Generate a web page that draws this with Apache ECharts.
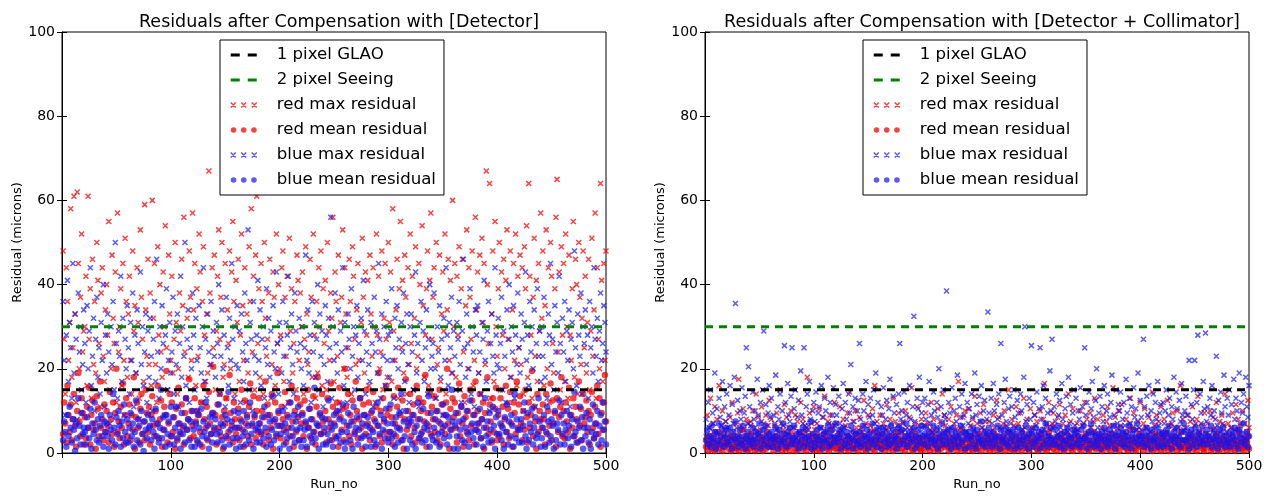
<!DOCTYPE html>
<html>
<head>
<meta charset="utf-8">
<script src="https://cdn.jsdelivr.net/npm/echarts@6/dist/echarts.min.js"></script>
<style>
html, body { margin: 0; padding: 0; background: #fff; }
#chart { width: 1272px; height: 496px; }
</style>
</head>
<body>
<div id="chart"></div>
<script>
// residuals (microns) per run, compensation with detector only
const redMaxDet = [
    48, 27, 14, 44, 36, 22, 31, 58, 18, 25, 61, 33, 12, 62, 45, 20, 37, 52, 24, 29,
    30, 42, 16, 61, 27, 39, 13, 46, 21, 36, 19, 50, 41, 26, 11, 38, 44, 23, 17, 34,
    40, 28, 55, 15, 20, 47, 32, 26, 43, 12, 57, 24, 30, 39, 16, 45, 22, 51, 36, 18,
    33, 42, 22, 14, 48, 29, 35, 19, 44, 31, 13, 53, 37, 27, 17, 59, 34, 23, 46, 21,
    38, 16, 60, 32, 45, 21, 12, 49, 28, 40, 24, 18, 43, 30, 54, 25, 15, 47, 33, 22,
    42, 19, 27, 50, 31, 14, 20, 38, 29, 46, 35, 56, 24, 13, 32, 18, 48, 37, 22, 57,
    34, 45, 16, 39, 23, 52, 43, 12, 36, 49, 28, 17, 33, 19, 67, 38, 21, 44, 25, 47,
    15, 29, 42, 53, 27, 37, 50, 18, 21, 45, 13, 34, 26, 48, 20, 43, 55, 36, 14, 41,
    31, 46, 17, 28, 52, 35, 22, 44, 12, 33, 19, 49, 36, 58, 24, 42, 15, 47, 61, 26,
    39, 18, 45, 36, 14, 50, 32, 23, 27, 38, 46, 13, 21, 43, 37, 16, 52, 26, 40, 20,
    28, 44, 48, 17, 37, 23, 42, 12, 51, 29, 39, 19, 26, 36, 15, 47, 41, 22, 38, 30,
    43, 14, 27, 49, 33, 21, 24, 46, 37, 18, 52, 28, 13, 36, 19, 44, 30, 48, 16, 39,
    26, 41, 15, 50, 29, 22, 38, 32, 56, 17, 43, 36, 23, 47, 12, 31, 37, 53, 20, 44,
    33, 18, 25, 46, 36, 14, 49, 42, 27, 21, 34, 45, 22, 13, 31, 51, 37, 19, 43, 28,
    41, 16, 47, 33, 23, 44, 30, 12, 52, 28, 42, 20, 24, 48, 15, 32, 45, 27, 18, 50,
    31, 43, 17, 58, 29, 22, 34, 46, 13, 39, 55, 25, 41, 19, 47, 37, 14, 44, 21, 52,
    26, 42, 15, 32, 49, 20, 23, 45, 40, 12, 54, 35, 18, 28, 39, 48, 16, 41, 57, 27,
    37, 44, 13, 50, 21, 25, 47, 17, 33, 43, 29, 52, 14, 34, 46, 22, 41, 19, 60, 30,
    45, 18, 42, 28, 49, 15, 39, 46, 24, 12, 35, 53, 20, 44, 37, 27, 48, 16, 22, 56,
    34, 43, 19, 47, 14, 51, 31, 45, 21, 67, 40, 26, 64, 13, 33, 48, 17, 55, 30, 23,
    39, 50, 15, 43, 28, 46, 20, 41, 53, 12, 27, 48, 18, 34, 45, 22, 52, 16, 42, 25,
    47, 21, 44, 14, 49, 39, 54, 18, 64, 42, 28, 13, 37, 51, 23, 41, 17, 45, 29, 57,
    32, 48, 16, 35, 53, 20, 44, 12, 50, 42, 26, 19, 39, 56, 65, 24, 43, 15, 49, 28,
    45, 17, 52, 30, 13, 47, 28, 22, 39, 55, 18, 46, 40, 14, 50, 37, 21, 32, 48, 25,
    42, 19, 31, 46, 15, 29, 51, 23, 34, 57, 13, 44, 27, 20, 64, 41, 17, 45, 22, 48
];
const redMeanDet = [
    4.5, 12, 7, 2.5, 16, 9, 5, 11.5, 3, 8, 14, 6.5, 1.5, 10, 19, 7.5, 4, 13, 9.5, 2,
    8.5, 3.5, 11, 6, 15.5, 2, 9, 12.5, 5.5, 7, 1, 13.5, 10.5, 4, 17, 6, 8, 3, 11.5, 5,
    10, 6.5, 2.5, 14.5, 8, 4.5, 12, 1.5, 9.5, 20, 5, 7.5, 3.5, 11, 6, 16.5, 2, 9, 13, 4,
    7, 11.5, 3, 9, 5.5, 18, 1, 8.5, 12, 6, 2.5, 10.5, 14, 4.5, 7.5, 3, 15, 9.5, 5, 11,
    2, 9, 13.5, 6.5, 4, 10, 7, 16, 3.5, 8, 12.5, 1.5, 5.5, 11, 9, 19.5, 2.5, 7, 14, 4,
    12, 5, 8.5, 1, 10.5, 3, 15.5, 7, 4.5, 11.5, 6, 2, 9.5, 13, 5.5, 8, 17.5, 3.5, 10, 6.5,
    4, 13, 7.5, 10, 2.5, 9, 5, 12, 1.5, 16, 8, 6, 11, 3, 14.5, 7, 4.5, 9.5, 20.5, 5.5,
    9, 2, 11.5, 6, 14, 4, 8.5, 1, 10, 7, 13, 3.5, 5, 18.5, 9.5, 6.5, 2.5, 12, 8, 4.5,
    6, 10.5, 3, 8, 15, 5.5, 1.5, 12.5, 7, 9, 4, 11, 16.5, 2, 6.5, 13.5, 8.5, 3.5, 10, 5,
    13, 7, 4.5, 10, 2, 8.5, 17, 5, 11.5, 3, 9, 6, 14, 1, 7.5, 12, 4, 19, 9.5, 6.5,
    3.5, 11, 8, 5.5, 14.5, 2.5, 9, 6, 12, 4, 16, 7.5, 1.5, 10, 5, 13, 8.5, 3, 11.5, 7,
    9.5, 4, 12.5, 7, 1, 15, 6, 10.5, 3.5, 8, 13.5, 5, 2, 11, 18, 6.5, 9, 4.5, 14, 7.5,
    5, 10, 2.5, 13, 8, 6, 16.5, 3, 11, 7, 4, 9.5, 12, 1.5, 15.5, 8.5, 5.5, 10.5, 3, 20,
    11, 6.5, 14, 4, 9, 2, 12.5, 7.5, 5, 17, 10, 3.5, 8, 13, 6, 1, 11.5, 9, 4.5, 15,
    7, 12, 3, 9.5, 5.5, 14.5, 8, 1.5, 11, 6.5, 19, 4, 10, 2.5, 13, 7.5, 5, 16, 9, 3.5,
    10.5, 5, 8.5, 2, 13.5, 7, 4, 11, 15.5, 6, 9, 3, 12.5, 1, 8, 17.5, 5.5, 10, 7, 14,
    4, 9, 11.5, 6, 2.5, 16, 8, 13, 3.5, 10, 5, 12, 7.5, 18.5, 1.5, 9.5, 6.5, 14.5, 4.5, 11,
    8, 13.5, 5, 10, 3, 7.5, 15, 2, 11.5, 6, 9, 4.5, 12, 20, 7, 1, 10.5, 5.5, 13, 8.5,
    12, 6, 2.5, 9.5, 16.5, 4, 11, 7, 1.5, 13.5, 8.5, 5, 10, 3, 15, 6.5, 12.5, 9, 2, 17,
    5.5, 10, 7, 14, 3.5, 8, 12, 1, 9.5, 6, 18, 4.5, 11.5, 7.5, 2.5, 13, 5, 10.5, 15.5, 3,
    9, 4, 13, 6.5, 11, 2, 8, 16, 5, 10.5, 3.5, 14.5, 7, 1.5, 12, 9.5, 4.5, 17, 6, 11.5,
    13.5, 7, 3, 10, 5.5, 15, 8.5, 2.5, 12, 6, 9, 19.5, 4, 11, 7.5, 1, 14, 5, 10, 8,
    6, 11.5, 8, 2, 14, 4.5, 10, 6.5, 16.5, 3, 12.5, 7, 9.5, 1.5, 13, 5, 8.5, 11, 18, 4,
    10, 3.5, 12, 7.5, 5, 15.5, 1, 9, 6, 13, 4, 11, 8, 2.5, 17, 6.5, 10.5, 3, 14, 7,
    8.5, 12.5, 5, 10, 2, 9, 14.5, 6, 3.5, 11, 7, 16, 4.5, 13, 1.5, 9.5, 5.5, 12, 18.5, 7.5
];
const blueMaxDet = [
    36, 22, 9, 28, 41, 17, 31, 25, 13, 45, 19, 33, 27, 8, 38, 24, 30, 15, 21, 34,
    26, 12, 35, 20, 29, 44, 16, 23, 32, 10, 27, 37, 18, 25, 14, 31, 22, 40, 11, 28,
    19, 33, 24, 7, 30, 21, 36, 15, 50, 26, 13, 29, 23, 42, 17, 32, 9, 27, 20, 35,
    25, 14, 31, 22, 38, 11, 28, 19, 34, 26, 8, 43, 21, 30, 16, 24, 33, 12, 29, 18,
    32, 23, 10, 27, 36, 17, 46, 24, 13, 30, 20, 35, 26, 9, 28, 39, 15, 22, 31, 19,
    24, 37, 14, 29, 21, 33, 11, 26, 42, 18, 30, 23, 50, 16, 27, 34, 12, 25, 20, 38,
    28, 15, 32, 22, 10, 35, 25, 19, 30, 44, 17, 27, 13, 33, 24, 21, 36, 9, 29, 23,
    18, 31, 26, 40, 14, 23, 34, 20, 28, 11, 37, 25, 16, 32, 22, 45, 27, 13, 30, 21,
    35, 20, 29, 12, 33, 24, 17, 38, 26, 22, 53, 15, 31, 27, 10, 36, 23, 19, 28, 41,
    22, 34, 16, 27, 30, 13, 25, 39, 21, 32, 18, 29, 8, 35, 24, 20, 43, 26, 14, 31,
    27, 19, 36, 23, 11, 31, 28, 42, 17, 25, 33, 21, 14, 38, 29, 24, 9, 32, 26, 20,
    30, 16, 25, 47, 22, 34, 19, 28, 12, 36, 24, 31, 18, 27, 40, 15, 33, 23, 29, 11,
    21, 35, 28, 17, 32, 25, 56, 13, 30, 22, 38, 26, 19, 34, 10, 29, 24, 44, 16, 31,
    25, 12, 33, 27, 20, 39, 23, 30, 15, 28, 35, 18, 26, 9, 32, 22, 41, 29, 14, 24,
    34, 21, 17, 31, 26, 11, 37, 24, 29, 19, 45, 27, 13, 33, 23, 30, 16, 36, 22, 28,
    18, 29, 39, 22, 13, 32, 25, 35, 20, 27, 10, 31, 24, 38, 17, 26, 33, 21, 12, 30,
    33, 24, 15, 28, 43, 19, 26, 11, 31, 36, 22, 29, 17, 25, 34, 14, 27, 40, 20, 23,
    26, 38, 20, 13, 30, 24, 35, 18, 27, 9, 32, 22, 44, 28, 16, 31, 25, 37, 19, 29,
    23, 15, 31, 27, 36, 21, 12, 29, 46, 25, 18, 33, 26, 20, 39, 14, 30, 24, 11, 34,
    28, 35, 19, 24, 14, 31, 27, 41, 22, 17, 29, 36, 10, 26, 33, 23, 19, 44, 28, 21,
    32, 20, 26, 37, 15, 29, 23, 12, 34, 27, 40, 18, 30, 24, 35, 13, 28, 21, 38, 25,
    19, 33, 27, 10, 31, 43, 22, 28, 16, 36, 24, 30, 20, 34, 11, 26, 39, 23, 29, 17,
    30, 23, 37, 18, 26, 13, 33, 28, 45, 21, 27, 15, 35, 24, 31, 19, 42, 26, 12, 32,
    24, 36, 17, 29, 22, 34, 11, 27, 31, 20, 48, 25, 16, 33, 28, 23, 38, 14, 30, 26,
    34, 21, 28, 13, 36, 25, 30, 19, 44, 27, 23, 32, 17, 29, 38, 22, 26, 35, 31, 24
];
const blueMeanDet = [
    3, 7.5, 5, 1.5, 9, 4, 11, 6, 2.5, 8, 5.5, 0.5, 7, 3.5, 13, 6.5, 2, 9.5, 4.5, 6,
    5, 2, 8.5, 6, 3.5, 10.5, 1, 7, 4.5, 12, 5.5, 3, 8, 2.5, 6.5, 9, 4, 1.5, 7.5, 5,
    7, 4, 1, 9, 5.5, 3, 14, 6, 2, 8.5, 4.5, 10, 6.5, 1.5, 7.5, 3.5, 11.5, 5, 2.5, 8,
    2.5, 6, 9.5, 4, 7, 1.5, 5, 12.5, 3, 8, 6.5, 2, 10, 4.5, 0.5, 7.5, 5.5, 3.5, 9, 6,
    6.5, 3, 8, 5, 1, 10.5, 4, 7, 2.5, 6, 15, 3.5, 8.5, 5.5, 1.5, 9, 4.5, 7.5, 2, 11,
    4, 8.5, 2, 6, 11, 3.5, 7, 5, 1, 9.5, 4.5, 6.5, 2.5, 13, 5.5, 8, 3, 7.5, 1.5, 10,
    5.5, 1.5, 7, 3, 9, 6, 2, 10.5, 4, 7.5, 5, 12, 3.5, 6.5, 1, 8.5, 4.5, 2.5, 9.5, 6,
    8, 4.5, 2.5, 11.5, 5, 7, 3, 6.5, 1.5, 9, 4, 8, 14.5, 2, 5.5, 7.5, 3.5, 10, 6, 1,
    3.5, 9.5, 6, 1.5, 7.5, 4, 10, 5, 2, 8.5, 6.5, 3, 12, 4.5, 7, 1, 9, 5.5, 2.5, 6,
    7, 2.5, 5, 8.5, 3.5, 11, 6, 1.5, 9, 4, 7.5, 2, 5.5, 13.5, 3, 8, 4.5, 6.5, 10, 1,
    4.5, 6.5, 10, 2, 7, 5, 3.5, 8.5, 1, 12, 6, 4, 9, 2.5, 7.5, 5.5, 11, 3, 6, 1.5,
    9, 3, 5.5, 7.5, 1.5, 6, 10.5, 4, 8, 2.5, 5, 15.5, 3.5, 7, 6.5, 1, 9.5, 4.5, 8.5, 2,
    6, 8, 2, 4.5, 12.5, 3, 7, 5.5, 1.5, 9, 6.5, 3.5, 10, 4, 8, 2.5, 5, 11.5, 7.5, 1,
    2.5, 5, 9.5, 6.5, 3, 7.5, 1, 11, 4.5, 6, 8.5, 2, 5.5, 13, 3.5, 7, 4, 9, 1.5, 6.5,
    8.5, 4, 6, 1.5, 10, 5, 3, 7.5, 2, 12, 6.5, 4.5, 9, 1, 5.5, 8, 3.5, 10.5, 7, 2.5,
    5, 11.5, 3.5, 7, 4.5, 1.5, 8.5, 6, 2.5, 9.5, 5.5, 14, 3, 7.5, 4, 10, 1, 6.5, 8, 3,
    7.5, 2, 9, 5, 1, 6.5, 12, 3.5, 8, 4.5, 2.5, 10.5, 6, 3, 7, 5.5, 13.5, 1.5, 9.5, 4,
    3, 6, 8, 2.5, 10, 4.5, 1.5, 7, 5, 11.5, 3.5, 6.5, 9, 2, 8.5, 4, 5.5, 15, 7.5, 1,
    6.5, 9.5, 4, 1, 7.5, 5.5, 11, 3, 8, 2.5, 6, 10, 4.5, 1.5, 12.5, 5, 7, 3.5, 9, 5.5,
    2, 7, 5, 10.5, 3.5, 8, 1.5, 6, 13, 4, 7.5, 2.5, 9.5, 5.5, 3, 11, 6.5, 1, 8.5, 4.5,
    10, 4.5, 7, 3, 6, 1, 8.5, 5, 11.5, 2, 7.5, 4, 9, 6.5, 1.5, 14, 3.5, 8, 5.5, 2.5,
    5.5, 8, 2.5, 6.5, 12, 4, 1, 9.5, 3, 7, 5, 10.5, 2, 6, 8.5, 3.5, 4.5, 13, 7.5, 1.5,
    3.5, 6, 9, 1.5, 5, 11, 7.5, 2.5, 4, 8, 6.5, 1, 10, 3, 7, 5.5, 12.5, 2, 9, 4.5,
    7, 2, 5.5, 10, 3.5, 6.5, 9, 1.5, 8, 4, 14.5, 5, 2.5, 7.5, 6, 11, 3, 8.5, 1, 6,
    4, 9.5, 6, 2.5, 8, 1, 5, 11.5, 3.5, 7, 4.5, 10, 2, 6.5, 9, 3, 12, 5.5, 7.5, 2
];

// residuals (microns) per run, compensation with detector + collimator
const redMaxColl = [
    4, 9, 2.5, 6, 13, 3.5, 7, 5, 11, 1.5, 8, 4.5, 16, 3, 6.5, 10, 2, 5.5, 7.5, 3,
    6, 2, 8.5, 4, 12, 5, 1.5, 7, 3.5, 9.5, 17.5, 4.5, 6.5, 2.5, 10.5, 5.5, 3, 8, 1, 7,
    3, 7.5, 5, 10, 2, 6, 14, 4, 8.5, 1.5, 5.5, 11, 3.5, 7, 2.5, 9, 4.5, 6.5, 12.5, 2,
    8, 4, 1.5, 6.5, 3, 9.5, 5, 2.5, 15, 7, 3.5, 5.5, 11.5, 1, 8.5, 4.5, 6, 2, 10, 5,
    2.5, 6, 9, 3.5, 7.5, 1, 5, 12, 4, 8, 2, 6.5, 3, 18, 5.5, 9.5, 1.5, 7, 4.5, 11,
    5.5, 3, 7, 1.5, 10.5, 4.5, 6, 2.5, 8.5, 13.5, 3.5, 5, 7.5, 2, 9, 4, 6.5, 1, 12, 3,
    7, 2, 4.5, 11, 5.5, 3, 8, 1.5, 6.5, 4, 9.5, 2.5, 14.5, 5, 3.5, 7.5, 1, 10, 6, 4.5,
    3.5, 8.5, 6, 2, 5, 12.5, 4, 7, 1.5, 9, 3, 6.5, 2.5, 10.5, 5.5, 16, 4.5, 7.5, 2, 5,
    9, 4, 1.5, 7, 3, 5.5, 11.5, 2.5, 6, 8, 4.5, 1, 13, 3.5, 7.5, 5, 2, 9.5, 6.5, 3,
    5, 7.5, 3, 10, 2, 6, 4.5, 8.5, 1.5, 15.5, 5.5, 3.5, 7, 2.5, 11, 4, 6.5, 1, 8, 3.5,
    2, 6.5, 9.5, 4, 7, 1.5, 5.5, 12, 3, 8, 4.5, 2.5, 6, 10.5, 1, 7.5, 3.5, 14, 5, 9,
    6.5, 3, 5, 8, 2.5, 11, 4, 1.5, 7, 5.5, 9, 3.5, 17, 2, 6, 4.5, 8.5, 1, 10, 5,
    4, 10.5, 2, 6.5, 3.5, 8, 5, 13.5, 1.5, 7, 4.5, 2.5, 9.5, 6, 3, 11.5, 5.5, 7.5, 2, 4,
    7.5, 1.5, 5, 3, 9, 6, 2, 12.5, 4, 8.5, 1, 5.5, 3.5, 7, 10, 2.5, 6.5, 4.5, 15, 3,
    5, 8, 3.5, 6.5, 1.5, 11, 4, 7, 2.5, 9.5, 5.5, 3, 13, 6, 1, 8, 4.5, 2, 10.5, 6,
    3, 6, 9, 2, 7.5, 4.5, 1.5, 10, 5, 3.5, 8, 16.5, 2.5, 6.5, 4, 12, 5.5, 1, 7, 9.5,
    6.5, 2.5, 4, 8.5, 3, 11.5, 5, 1.5, 7, 4.5, 9, 2, 6, 14, 3.5, 7.5, 1, 10.5, 5.5, 4,
    2, 7, 5.5, 1.5, 10, 3.5, 6.5, 4, 12, 2.5, 8, 5, 3, 9.5, 6, 1, 7.5, 13, 4.5, 3,
    8, 4.5, 2, 6, 3.5, 9, 1.5, 5.5, 7.5, 11, 3, 6.5, 2.5, 4, 15.5, 5, 8.5, 1, 6, 10,
    4, 6.5, 11.5, 3, 5, 2, 8, 4.5, 1, 7, 13, 3.5, 6, 9.5, 2.5, 5.5, 1.5, 7.5, 4, 12,
    5.5, 2, 7, 10.5, 4, 6, 1.5, 8.5, 3, 5, 14.5, 2.5, 6.5, 4.5, 9, 1, 7.5, 3.5, 11, 5,
    3.5, 8, 5, 2, 12.5, 6.5, 4, 1.5, 7, 9.5, 3, 5.5, 2.5, 10, 6, 4.5, 16, 1, 8, 3,
    6, 3, 9, 4.5, 1.5, 7.5, 5, 11, 2.5, 6.5, 3.5, 8, 13.5, 4, 2, 7, 5.5, 1, 9.5, 4.5,
    2.5, 7, 4, 10, 5.5, 3, 8.5, 1.5, 6, 12, 4.5, 2, 7.5, 5, 9, 3.5, 6.5, 14, 1, 5,
    7, 4, 1.5, 6, 9.5, 3, 5.5, 11.5, 2, 8, 4.5, 6.5, 2.5, 10, 3.5, 7, 1, 5, 12.5, 6
];
const redMeanColl = [
    1.5, 3, 0.5, 2, 4, 1, 2.5, 3.5, 0.5, 1.5, 2, 5, 1, 3, 2.5, 0.5, 4.5, 1.5, 2, 3.5,
    2.5, 1, 3.5, 0.5, 2, 4, 1.5, 3, 1, 2.5, 0.5, 3.5, 2, 5.5, 1, 2.5, 1.5, 4, 0.5, 3,
    1, 4.5, 2, 1.5, 3, 0.5, 2.5, 1, 3.5, 2, 4, 1.5, 0.5, 3, 2.5, 1, 5, 2, 1.5, 3.5,
    3, 1.5, 0.5, 2.5, 4, 2, 1, 3.5, 1.5, 2.5, 0.5, 3, 4.5, 1, 2, 3, 1.5, 0.5, 2.5, 4,
    2, 3.5, 1, 0.5, 2.5, 4.5, 1.5, 2, 3, 1, 5, 2.5, 0.5, 3.5, 1.5, 2, 4, 1, 3, 0.5,
    1.5, 2.5, 4, 1, 3, 0.5, 2, 3.5, 1.5, 4.5, 2.5, 1, 3, 0.5, 2, 5.5, 1.5, 2.5, 3.5, 1,
    3.5, 1, 2, 4.5, 0.5, 2.5, 1.5, 3, 2, 1, 4, 0.5, 2.5, 3.5, 1.5, 2, 3, 1, 4.5, 2,
    0.5, 3, 1.5, 2.5, 4, 1, 2, 0.5, 3.5, 2.5, 1.5, 5, 2, 1, 3, 0.5, 2.5, 4, 1.5, 3,
    2.5, 1, 4.5, 2, 0.5, 3, 1.5, 3.5, 1, 2, 4, 2.5, 0.5, 1.5, 3, 2, 5, 1, 2.5, 3.5,
    1, 2.5, 3, 0.5, 4, 1.5, 2, 3.5, 2.5, 1, 0.5, 3, 4.5, 2, 1.5, 2.5, 1, 3.5, 0.5, 2,
    3, 2, 1, 4, 1.5, 2.5, 0.5, 3, 5, 1, 2, 3.5, 1.5, 0.5, 2.5, 4, 1, 3, 2, 1.5,
    2, 4.5, 1.5, 0.5, 3, 2, 1, 3.5, 2.5, 1.5, 4, 0.5, 2, 3, 1, 5.5, 2.5, 1.5, 0.5, 3.5,
    1.5, 3, 2.5, 1, 4, 0.5, 3.5, 2, 1.5, 2.5, 1, 4.5, 3, 0.5, 2, 1.5, 3.5, 2.5, 1, 4,
    2.5, 0.5, 3.5, 2, 1, 4.5, 1.5, 3, 0.5, 2, 3.5, 1, 2.5, 4, 1.5, 0.5, 3, 2, 5, 1,
    1, 3.5, 2, 0.5, 2.5, 4, 1.5, 1, 3, 2.5, 0.5, 4.5, 2, 1.5, 3.5, 1, 2.5, 0.5, 3, 2,
    4, 1.5, 2.5, 3, 1, 0.5, 3.5, 2, 4.5, 1.5, 2.5, 1, 3, 0.5, 2, 5, 1.5, 3.5, 2.5, 1,
    2, 3, 0.5, 1.5, 4, 2.5, 1, 3.5, 2, 0.5, 3, 1.5, 4.5, 2.5, 1, 2, 3.5, 0.5, 1.5, 3,
    1.5, 2.5, 4, 1, 3, 0.5, 2, 3.5, 1.5, 4.5, 2.5, 1, 0.5, 3, 2, 1.5, 5, 2.5, 1, 3.5,
    3, 1, 2, 3.5, 0.5, 2.5, 4, 1.5, 2, 1, 3, 4.5, 0.5, 2.5, 1.5, 3.5, 2, 1, 4, 2.5,
    0.5, 2, 3.5, 1.5, 2.5, 4, 1, 3, 0.5, 2, 5.5, 1.5, 3, 2.5, 1, 0.5, 3.5, 2, 4.5, 1.5,
    2.5, 1.5, 0.5, 3, 2, 4, 1, 2.5, 3.5, 1.5, 0.5, 3, 2, 4.5, 1, 2.5, 1.5, 3.5, 0.5, 2,
    3.5, 1, 2.5, 4.5, 1.5, 0.5, 3, 2, 1, 4, 2.5, 1.5, 3.5, 0.5, 2, 3, 1, 5, 2.5, 1.5,
    1, 3, 2, 0.5, 3.5, 2.5, 1.5, 4, 1, 2, 3, 0.5, 2.5, 4.5, 1.5, 2, 3.5, 1, 0.5, 3,
    2, 4, 1.5, 3, 0.5, 2.5, 1, 3.5, 2, 4.5, 1.5, 0.5, 3, 2.5, 1, 2, 4, 1.5, 3, 0.5,
    3, 1.5, 2.5, 1, 4, 2, 0.5, 3, 1.5, 2.5, 5, 1, 2, 3.5, 0.5, 1.5, 3, 2.5, 4, 1
];
const blueMaxColl = [
    8, 4.5, 12, 6, 15, 3, 9.5, 7, 19, 5, 10.5, 2.5, 13, 8.5, 6.5, 17, 4, 11, 7.5, 14,
    5.5, 9, 16, 3.5, 11.5, 7, 18, 35.5, 6, 12.5, 4, 10, 8, 15.5, 2.5, 9.5, 13.5, 25, 7, 20.5,
    11, 6.5, 3, 14.5, 8, 10, 5, 17.5, 9, 4.5, 12, 7.5, 15, 29, 6, 11.5, 2, 9.5, 16, 8.5,
    13, 4, 9, 7, 18.5, 5.5, 11, 8, 14, 3, 10, 6.5, 25.5, 12, 4.5, 16.5, 9, 7.5, 13.5, 25,
    6, 10.5, 15, 3.5, 8.5, 12.5, 5, 19.5, 9, 7, 25, 4, 11, 14, 6.5, 17, 8, 2.5, 10, 12,
    7.5, 14.5, 4, 9.5, 11, 6, 16, 8.5, 3, 13, 10, 5.5, 18, 7, 12, 4.5, 9, 15.5, 6.5, 11.5,
    9, 5, 13.5, 7, 3.5, 10.5, 16.5, 6, 12, 8, 4, 14, 9.5, 21, 5.5, 11, 7.5, 13, 3, 10,
    12.5, 26, 8, 5, 14, 10, 6.5, 17, 4, 11.5, 8.5, 13, 3.5, 9, 15, 7, 19, 5.5, 12, 6,
    4.5, 11, 9, 15.5, 6, 8, 12.5, 3, 10.5, 17.5, 7, 5, 13.5, 9.5, 4, 11.5, 6.5, 14, 26, 8,
    10, 7, 14.5, 5.5, 9, 12, 4, 16, 8, 6, 11, 32.5, 7.5, 3.5, 13, 10.5, 18, 5, 9.5, 12,
    6.5, 13, 8, 4, 11.5, 17, 7, 9, 5, 14.5, 10, 3, 12, 8.5, 20, 6, 11, 4.5, 15, 9,
    8, 38.5, 5.5, 12, 9.5, 6, 15.5, 3.5, 10, 13, 7.5, 18.5, 4.5, 11, 8.5, 14, 6.5, 9, 16.5, 5,
    12, 7, 10.5, 4, 14, 8.5, 5.5, 19, 9, 11.5, 3, 13.5, 7.5, 16, 6, 10, 12.5, 4.5, 8, 33.5,
    9.5, 5, 13, 7, 16.5, 10, 4, 11.5, 8, 14, 6, 26, 9, 3.5, 12, 17.5, 7.5, 5.5, 10.5, 13.5,
    7, 11, 4.5, 15, 8.5, 6, 12.5, 9.5, 3, 14, 10, 5.5, 18, 30, 7.5, 11.5, 4, 13, 8, 25.5,
    5, 12, 9, 6.5, 14.5, 3.5, 10.5, 25, 8, 11, 16, 5.5, 13, 7, 9.5, 4, 19.5, 10, 27, 6,
    11, 7.5, 14, 4.5, 9, 12.5, 6, 16.5, 8, 3, 10.5, 13.5, 5, 18, 7, 11.5, 4, 9.5, 15, 6.5,
    13, 5.5, 10, 8, 15.5, 3.5, 11, 7, 25, 9, 12, 4.5, 14.5, 6, 10.5, 17, 8.5, 5, 12.5, 20,
    6, 9.5, 13.5, 4, 11, 7.5, 16, 5, 10, 14, 3, 8.5, 12, 18.5, 6.5, 9, 4.5, 15, 7, 11.5,
    10, 14.5, 5, 8, 12, 6.5, 17.5, 9.5, 3.5, 13, 7, 11, 4, 15.5, 8.5, 10.5, 5.5, 19, 6, 12.5,
    8.5, 4, 27, 11, 6, 13.5, 9, 16, 5, 10, 7.5, 14, 3, 12, 8, 17, 6.5, 9.5, 11.5, 4.5,
    12, 7, 10, 15, 5, 9, 13, 3.5, 11, 8, 18, 6, 14.5, 10.5, 4, 12.5, 7.5, 16.5, 9, 5.5,
    10, 13.5, 6, 9, 22, 4.5, 11.5, 8, 15, 22, 7, 12, 28, 5, 14, 9.5, 3, 17, 10.5, 28.5,
    7.5, 11, 4, 13, 9, 16, 5.5, 10, 8, 23, 6.5, 12.5, 3.5, 14.5, 9.5, 7, 18.5, 11, 5, 13,
    9, 15, 6, 11.5, 4.5, 17.5, 8, 13, 10, 5.5, 19, 7, 12, 9.5, 14, 3.5, 18, 11, 8.5, 16
];
const blueMeanColl = [
    3, 5.5, 2, 4, 1.5, 6.5, 3.5, 2.5, 5, 1, 4.5, 3, 7, 2, 4, 5.5, 1.5, 3.5, 6, 2.5,
    4.5, 2, 6, 3, 1, 5, 3.5, 7.5, 2.5, 4, 1.5, 5.5, 3, 2, 6.5, 4, 1, 3.5, 5, 2.5,
    2, 4, 3, 6, 1.5, 3.5, 5, 2.5, 4.5, 7, 1, 3, 5.5, 2, 4, 6.5, 3.5, 1.5, 4.5, 3,
    5, 1.5, 3.5, 2.5, 6, 4, 1, 5.5, 3, 2, 4.5, 7, 2.5, 3.5, 1.5, 5, 4, 6, 2, 3,
    3.5, 6.5, 2, 4.5, 3, 1, 5, 2.5, 4, 6, 1.5, 3.5, 5.5, 2, 4, 3, 7.5, 1, 4.5, 2.5,
    1.5, 4, 5.5, 3, 2, 6, 3.5, 1, 4.5, 2.5, 5, 3, 6.5, 1.5, 4, 2, 5.5, 3.5, 2.5, 7,
    4, 2.5, 3.5, 5.5, 1, 4.5, 6, 2, 3, 5, 1.5, 4, 2.5, 6.5, 3.5, 1, 5, 3, 4.5, 2,
    2.5, 5, 1.5, 3.5, 6.5, 2, 4, 3, 5.5, 1, 4.5, 2.5, 3.5, 7, 2, 5, 3, 1.5, 4, 6,
    3, 1, 4.5, 6, 2.5, 3.5, 5, 1.5, 4, 2, 6.5, 3, 5.5, 2.5, 4, 1, 3.5, 6, 2, 5,
    5.5, 3, 2, 4, 7, 1.5, 3.5, 5, 2.5, 4.5, 3, 6, 1, 4, 2, 5.5, 3.5, 2.5, 6.5, 4,
    2, 4.5, 6, 3, 1.5, 5, 3.5, 2.5, 4, 6.5, 2, 3, 5.5, 1, 4.5, 3.5, 2, 7, 3, 5,
    4, 2, 3.5, 5.5, 2.5, 1, 4.5, 6, 3, 2, 5, 3.5, 1.5, 4, 6.5, 2.5, 3, 5, 1, 4.5,
    3.5, 5, 1.5, 4, 3, 6, 2, 4.5, 1, 5.5, 3.5, 2.5, 4, 7.5, 2, 3, 5, 1.5, 4.5, 3,
    6, 2.5, 4, 1.5, 5, 3, 3.5, 2, 6.5, 4, 1, 5.5, 3, 2.5, 4.5, 6, 2, 3.5, 1.5, 5,
    2.5, 4, 5.5, 3, 1, 4.5, 2, 6, 3.5, 1.5, 5, 3, 4, 2, 6.5, 3.5, 1, 4.5, 5.5, 2.5,
    4.5, 1.5, 3, 6, 2.5, 4, 5, 1, 3.5, 5.5, 2, 4.5, 7, 3, 1.5, 4, 2.5, 6, 3.5, 2,
    3, 5.5, 2, 4, 6.5, 1.5, 3.5, 4.5, 2.5, 1, 5, 3, 6, 2, 4, 3.5, 1.5, 5.5, 2.5, 4.5,
    5, 2, 4, 3, 1.5, 5.5, 2.5, 6.5, 3.5, 4, 1, 3, 5, 2, 7, 4.5, 3, 1.5, 4, 2.5,
    2, 4.5, 3.5, 1, 5, 3, 6, 2.5, 4, 1.5, 3.5, 5.5, 2, 4.5, 3, 6.5, 1, 4, 2.5, 5,
    3.5, 6, 2, 4.5, 3, 1.5, 5, 4, 2, 6.5, 3, 1, 4.5, 5.5, 2.5, 3.5, 7, 2, 4, 3,
    4, 2.5, 5, 1.5, 3.5, 6, 2, 4.5, 3, 1, 5.5, 3.5, 2.5, 4, 6, 1.5, 3, 5, 2, 4.5,
    1.5, 4, 3, 5.5, 2, 4.5, 6.5, 3, 1, 3.5, 5, 2.5, 4, 6, 2, 3.5, 1.5, 5, 3, 7,
    3, 5, 2.5, 4, 1, 3.5, 5.5, 2, 4.5, 3, 6, 1.5, 3.5, 5, 2.5, 4, 6.5, 2, 3, 4.5,
    5.5, 2, 4, 3, 6.5, 1.5, 3.5, 5, 2.5, 4, 1, 3, 5.5, 2, 4.5, 6, 3, 1.5, 4, 2.5,
    2.5, 4.5, 1.5, 3.5, 5, 3, 6, 2, 4, 1, 5.5, 3.5, 2.5, 4.5, 7, 2, 3, 5, 1.5, 4
];

const runMin = 0;
const runMax = 500;
const glaoLevel = 15;
const seeingLevel = 30;
const panelTitles = [
    'Residuals after Compensation with [Detector]',
    'Residuals after Compensation with [Detector + Collimator]'
];
const seriesNames = [
    '1 pixel GLAO',
    '2 pixel Seeing',
    'red max residual',
    'red mean residual',
    'blue max residual',
    'blue mean residual'
];

const FONT = 'DejaVu Sans';
const RED = 'rgba(240,0,0,0.92)';
const BLUE = 'rgba(20,20,240,0.88)';
const X_MARK = 'path://M0,0L10,10M10,0L0,10';
const DASH_ICON = 'path://M0,0h9v3h-9zM17,0h9v3h-9z';
const X_ICON = 'path://M0,0.5L5,5.5M5,0.5L0,5.5M10.5,0.5L15.5,5.5M15.5,0.5L10.5,5.5M21,0.5L26,5.5M26,0.5L21,5.5';
const DOT_ICON = 'path://M0,3a2.8,2.8 0 1,0 5.6,0a2.8,2.8 0 1,0 -5.6,0M10.2,3a2.8,2.8 0 1,0 5.6,0a2.8,2.8 0 1,0 -5.6,0M20.4,3a2.8,2.8 0 1,0 5.6,0a2.8,2.8 0 1,0 -5.6,0';

const gridLefts = [62, 705];

function toPoints(vals) {
    return vals.map((v, i) => [i + 1, v]);
}

function makeLegend(left) {
    return {
        left: left,
        top: 40,
        orient: 'vertical',
        selectedMode: false,
        backgroundColor: '#fff',
        borderColor: '#000',
        borderWidth: 1,
        borderRadius: 0,
        padding: [5, 8, 5, 10],
        itemWidth: 26,
        itemHeight: 6,
        itemGap: 5,
        textStyle: {
            fontFamily: FONT,
            fontSize: 16.6,
            color: '#000',
            lineHeight: 20,
            padding: [0, 0, 0, 15]
        },
        data: [
            { name: seriesNames[0], icon: DASH_ICON, itemStyle: { borderWidth: 0 } },
            { name: seriesNames[1], icon: DASH_ICON, itemStyle: { borderWidth: 0 } },
            { name: seriesNames[2], icon: X_ICON, itemStyle: { borderWidth: 1.5, borderColor: RED } },
            { name: seriesNames[3], icon: DOT_ICON, itemStyle: { borderWidth: 0 } },
            { name: seriesNames[4], icon: X_ICON, itemStyle: { borderWidth: 1.5, borderColor: BLUE } },
            { name: seriesNames[5], icon: DOT_ICON, itemStyle: { borderWidth: 0 } }
        ]
    };
}

function levelLine(p, name, level, color) {
    return {
        name: name,
        type: 'line',
        xAxisIndex: 2 * p,
        yAxisIndex: 2 * p,
        data: [[runMin, level], [runMax, level]],
        symbol: 'none',
        silent: true,
        z: 3,
        itemStyle: { color: color, borderWidth: 0 },
        lineStyle: { color: color, width: 3, type: [8, 6] }
    };
}

function scatter(p, name, vals, color, cross) {
    return {
        name: name,
        type: 'scatter',
        xAxisIndex: 2 * p,
        yAxisIndex: 2 * p,
        data: toPoints(vals),
        symbol: cross ? X_MARK : 'circle',
        symbolSize: cross ? 5 : 6.5,
        silent: true,
        z: 2,
        itemStyle: cross
            ? { color: color, borderColor: color, borderWidth: 1.5 }
            : { color: color, borderWidth: 0 }
    };
}

const grids = [];
const xAxes = [];
const yAxes = [];
const series = [];
const titles = [];
const legends = [];

const panels = [
    [redMaxDet, redMeanDet, blueMaxDet, blueMeanDet],
    [redMaxColl, redMeanColl, blueMaxColl, blueMeanColl]
];

panels.forEach((vals, p) => {
    const left = gridLefts[p];
    grids.push({
        left: left, top: 32, width: 544, height: 423,
        show: true, borderColor: '#000', borderWidth: 1, backgroundColor: 'transparent'
    });
    titles.push({
        text: panelTitles[p],
        left: left + 272,
        top: 8,
        textAlign: 'center',
        textStyle: { fontFamily: FONT, fontSize: 17.5, fontWeight: 'normal', color: '#000' }
    });
    legends.push(makeLegend(left + 158));

    const tick = { show: true, inside: true, length: 5, lineStyle: { color: '#000', width: 1 } };
    const label = { fontFamily: FONT, fontSize: 14, color: '#000' };
    const nameStyle = { fontFamily: FONT, fontSize: 13, color: '#000' };
    xAxes.push({
        type: 'value', gridIndex: p, position: 'bottom',
        min: runMin, max: runMax, interval: 100,
        axisLine: { show: true, onZero: false, lineStyle: { color: '#000' } },
        axisTick: tick,
        axisLabel: Object.assign({ margin: 6, showMinLabel: false }, label),
        splitLine: { show: false },
        name: 'Run_no', nameLocation: 'middle', nameGap: 25,
        nameTextStyle: nameStyle
    });
    xAxes.push({
        type: 'value', gridIndex: p, position: 'top',
        min: runMin, max: runMax, interval: 100,
        axisLine: { show: false },
        axisTick: tick,
        axisLabel: { show: false },
        splitLine: { show: false }
    });
    yAxes.push({
        type: 'value', gridIndex: p, position: 'left',
        min: 0, max: 100, interval: 20,
        axisLine: { show: true, onZero: false, lineStyle: { color: '#000' } },
        axisTick: tick,
        axisLabel: Object.assign({ margin: 7 }, label),
        splitLine: { show: false },
        name: 'Residual (microns)', nameLocation: 'middle', nameGap: 38,
        nameTextStyle: nameStyle
    });
    yAxes.push({
        type: 'value', gridIndex: p, position: 'right',
        min: 0, max: 100, interval: 20,
        axisLine: { show: false },
        axisTick: tick,
        axisLabel: { show: false },
        splitLine: { show: false }
    });

    series.push(levelLine(p, seriesNames[0], glaoLevel, '#000'));
    series.push(levelLine(p, seriesNames[1], seeingLevel, '#008000'));
    series.push(scatter(p, seriesNames[2], vals[0], RED, true));
    series.push(scatter(p, seriesNames[3], vals[1], RED, false));
    series.push(scatter(p, seriesNames[4], vals[2], BLUE, true));
    series.push(scatter(p, seriesNames[5], vals[3], BLUE, false));
});

const chart = echarts.init(document.getElementById('chart'));
chart.setOption({
    animation: false,
    backgroundColor: '#fff',
    title: titles,
    legend: legends,
    grid: grids,
    xAxis: xAxes,
    yAxis: yAxes,
    series: series
});
</script>
</body>
</html>
